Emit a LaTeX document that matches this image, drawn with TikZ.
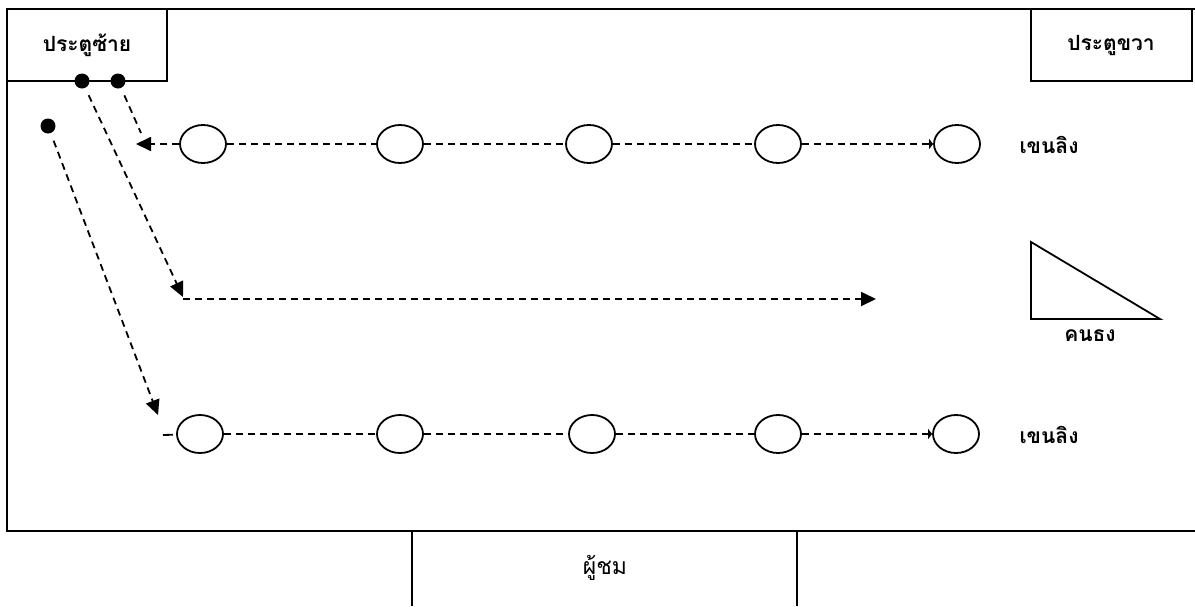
\documentclass[tikz,border=0pt]{standalone}
\usepackage{fontspec}
\newfontfamily\thai[Script=Thai]{Loma}
\usetikzlibrary{shapes.geometric,arrows.meta}
\tikzset{
  frame/.style={line width=2pt},
  box/.style={draw,line width=2pt,inner sep=0pt},
  dot/.style={circle,fill=black,inner sep=0pt,minimum size=15pt},
  dancer/.style={ellipse,draw,line width=1.8pt,inner sep=0pt,minimum width=46pt,minimum height=38pt},
  path/.style={line width=1.8pt,dash pattern=on 7pt off 5pt},
  bigtip/.style={-{Triangle[length=15pt,width=14pt]}},
  smalltip/.style={-{Triangle[length=4pt,width=10pt]}},
  lab/.style={font=\thai\bfseries\fontsize{21}{24}\selectfont}
}
\begin{document}
\begin{tikzpicture}[x=1pt,y=-1pt]
\useasboundingbox (0,0) rectangle (1195,606);
% stage outline
\coordinate (tr) at (1195,9);
\coordinate (tl) at (7,9);
\coordinate (bl) at (7,531);
\coordinate (br) at (1195,531);
\draw[frame] (tr) -- (tl) -- (bl) -- (br);
% doors
\node[box,minimum width=160pt,minimum height=72pt,lab] (ldoor) at (87,45) {ประตูซ้าย};
\node[box,minimum width=161pt,minimum height=72pt,lab] (rdoor) at (1111,45) {ประตูขวา};
% audience
\coordinate (a1) at (412,531);
\coordinate (a2) at (412,606);
\coordinate (a3) at (797,531);
\coordinate (a4) at (797,606);
\draw[frame] (a2) -- (a1);
\draw[frame] (a4) -- (a3);
\node[font=\thai\fontsize{23}{26}\selectfont] (aud) at (605,568) {ผู้ชม};
% dots
\node[dot] (d1) at (82,81) {};
\node[dot] (d2) at (118,81) {};
\node[dot] (d3) at (48,126) {};
% row 1
\node[dancer] (e11) at (203,144) {};
\node[dancer] (e12) at (400,144) {};
\node[dancer] (e13) at (589,144) {};
\node[dancer] (e14) at (778,144) {};
\node[dancer] (e15) at (957,144) {};
\node[lab,anchor=west] (l1) at (1016,145) {เขนลิง};
\coordinate (r1s) at (136,144);
\coordinate (r1d) at (141,133);
\draw[path,bigtip] (e11) -- (r1s);
\draw[path,shorten <=8pt] (d2) -- (r1d);
\draw[path] (e11) -- (e12);
\draw[path] (e12) -- (e13);
\draw[path] (e13) -- (e14);
\draw[path,smalltip] (e14) -- (e15);
% row 2
\coordinate (m2) at (183,297);
\coordinate (m2h) at (183,299);
\coordinate (m2e) at (876,299);
\draw[path,bigtip,shorten <=8pt] (d1) -- (m2);
\draw[path,bigtip] (m2h) -- (m2e);
% flag bearer
\coordinate (t1) at (1031,242);
\coordinate (t2) at (1031,319);
\coordinate (t3) at (1160,319);
\draw[line width=1.8pt,line join=miter] (t1) -- (t2) -- (t3) -- cycle;
\node[lab] (flag) at (1090,336) {คนธง};
% row 3
\node[dancer] (e31) at (200,434) {};
\node[dancer] (e32) at (400,434) {};
\node[dancer] (e33) at (592,434) {};
\node[dancer] (e34) at (778,434) {};
\node[dancer] (e35) at (956,434) {};
\node[lab,anchor=west] (l3) at (1016,435) {เขนลิง};
\coordinate (r3d) at (158,415);
\coordinate (r3s) at (163,435);
\draw[path,bigtip,shorten <=8pt] (d3) -- (r3d);
\draw[path,dash pattern=on 10pt off 4pt] (r3s) -- (e31);
\draw[path] (e31) -- (e32);
\draw[path] (e32) -- (e33);
\draw[path] (e33) -- (e34);
\draw[path,smalltip] (e34) -- (e35);
\end{tikzpicture}
\end{document}
